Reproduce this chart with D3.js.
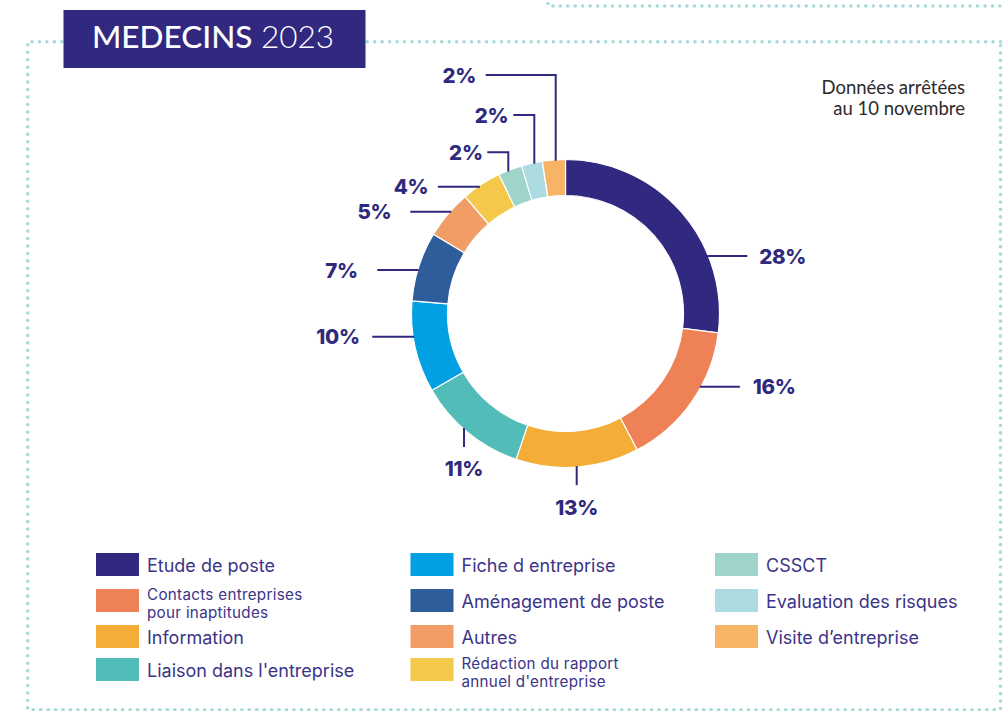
<!DOCTYPE html>
<html><head><meta charset="utf-8">
<script src="https://cdn.jsdelivr.net/npm/d3@7"></script>
<style>
html,body{margin:0;padding:0;background:#fff;}
svg{display:block;}
</style></head>
<body>
<svg id="chart" width="1005" height="711"></svg>
<script>
// ---- data ----
const categories = ["Etude de poste","Contacts entreprises pour inaptitudes","Information","Liaison dans l'entreprise","Fiche d entreprise","Aménagement de poste","Autres","Rédaction du rapport annuel d'entreprise","CSSCT","Evaluation des risques","Visite d’entreprise"];
const values = [27.0, 15.3, 12.9, 11.5, 9.6, 7.3, 5.1, 4.2, 2.5, 2.2, 2.4];
const valueLabels = ["28%","16%","13%","11%","10%","7%","5%","4%","2%","2%","2%"];
const colors = ["#31287f","#ef8157","#f4ad37","#52bdb8","#00a0e3","#2f5c9a","#f09e65","#f3c84b","#9fd4cb","#acdbe2","#f8b466"];
const legendLines = [["Etude de poste"],["Contacts entreprises","pour inaptitudes"],["Information"],["Liaison dans l'entreprise"],["Fiche d entreprise"],["Aménagement de poste"],["Autres"],["Rédaction du rapport","annuel d'entreprise"],["CSSCT"],["Evaluation des risques"],["Visite d’entreprise"]];
const title = ["MEDECINS", "2023"];
const note = ["Données arrêtées", "au 10 novembre"];

// ---- layout ----
const svg = d3.select("#chart");
const cx = 565.5, cy = 313.5, R = 154, r = 118;
const dotColor = "#a6dbd8";
const ink = "#2f2a7e";

// dotted frames
function dotted(pathD){
  svg.append("path").attr("d", pathD).attr("fill","none")
    .attr("stroke", dotColor).attr("stroke-width", 3.6)
    .attr("stroke-linecap","round").attr("stroke-dasharray","0 7.45");
}
dotted("M548,-4 L548,6 L1008,6");
dotted("M1000.5,41.7 L27.7,41.7 L27.7,709.8 L1000.5,709.8 Z");

// title
svg.append("rect").attr("x",63.5).attr("y",10).attr("width",302).attr("height",58).attr("fill","#31287f");
const tt = svg.append("text").attr("x",92).attr("y",47.5).attr("fill","#fff")
  .attr("font-family","Lato, sans-serif").attr("font-size",31.5);
tt.append("tspan").attr("font-weight",500).text(title[0]);
tt.append("tspan").attr("font-weight",300).text(" " + title[1]);

// note
const nt = svg.append("text").attr("text-anchor","end").attr("fill","#2b2b2b")
  .attr("font-family","Lato, sans-serif").attr("font-size",18.5);
note.forEach((s,i)=> nt.append("tspan").attr("x",965).attr("y",93.5 + i*21).text(s));

// donut
const pie = d3.pie().sort(null).value(d=>d).startAngle(0).endAngle(2*Math.PI);
const arcs = pie(values);
const arc = d3.arc().innerRadius(r).outerRadius(R);
const g = svg.append("g").attr("transform",`translate(${cx},${cy})`);
g.selectAll("path.slice").data(arcs).join("path").attr("class","slice")
  .attr("d", arc).attr("fill",(d,i)=>colors[i])
  .attr("stroke","#fff").attr("stroke-width",1.2).attr("stroke-linejoin","bevel");

// leader lines: layout per slice (relative to the donut centre)
const layout = [
  {t:"right", o:-57.5, len:40, gap:12},
  {t:"right", o:73.2, len:40, gap:13},
  {t:"down", o:11.2, len:19, gap:30},
  {t:"down", o:-101.5, len:19, gap:29.5},
  {t:"left", o:23.2, len:42, gap:12.5},
  {t:"left", o:-43.5, len:41.5, gap:19.5},
  {t:"left", o:-101.8, len:41, gap:19},
  {t:"left", o:-126.8, len:42, gap:9.5},
  {t:"elbow", o:-57.2, top:-161.2, len:21, gap:4.6},
  {t:"elbow", o:-31.2, top:-198.5, len:21, gap:5},
  {t:"elbow", o:-9.8, top:-238.5, len:70, gap:9.7}
];
const edge = R - 1;
const lab = svg.append("g").attr("font-family","Inter, sans-serif").attr("font-weight",800)
  .attr("font-size",20.5).attr("fill",ink).attr("letter-spacing","-0.3");
const lines = svg.append("g").attr("stroke",ink).attr("stroke-width",2).attr("fill","none");
layout.forEach((L,i)=>{
  let pts, tx, ty, anchor;
  if(L.t==="right"||L.t==="left"){
    const s = L.t==="right"?1:-1;
    const x0 = cx + s*Math.sqrt(edge*edge - L.o*L.o);
    const y = cy + L.o;
    const x1 = x0 + s*L.len;
    pts = [[x0,y],[x1,y]];
    tx = x1 + s*L.gap; ty = y + 7.5; anchor = s>0?"start":"end";
  } else if(L.t==="down"){
    const x = cx + L.o;
    const y0 = cy + Math.sqrt(edge*edge - L.o*L.o);
    const y1 = y0 + L.len;
    pts = [[x,y0],[x,y1]];
    tx = x; ty = y1 + L.gap; anchor = "middle";
  } else {
    const x = cx + L.o;
    const y0 = cy - Math.sqrt(edge*edge - L.o*L.o);
    const yt = cy + L.top;
    const x1 = x - L.len;
    pts = [[x,y0],[x,yt],[x1,yt]];
    tx = x1 - L.gap; ty = yt + 7.5; anchor = "end";
  }
  lines.append("path").attr("d", d3.line()(pts));
  lab.append("text").attr("x",tx).attr("y",ty).attr("text-anchor",anchor).text(valueLabels[i]);
});

// legend
const colX = [96, 410.5, 715];
const rowY = [553, 589, 625, 658];
const leg = svg.append("g").attr("font-family","Inter, sans-serif").attr("fill","#3b3488");
categories.forEach((c,i)=>{
  const col = Math.floor(i/4), row = i%4;
  const x = colX[col], y = rowY[row];
  leg.append("rect").attr("x",x).attr("y",y).attr("width",43).attr("height",23).attr("fill",colors[i]);
  const ls = legendLines[i];
  if(ls.length===1){
    leg.append("text").attr("font-size",18).attr("x",x+51).attr("y",y+19).text(ls[0]);
  } else {
    ls.forEach((s,k)=> leg.append("text").attr("font-size",15.2).attr("letter-spacing","0.3")
      .attr("x",x+51).attr("y",y+10.5 + k*18.5).text(s));
  }
});
</script>
</body></html>
